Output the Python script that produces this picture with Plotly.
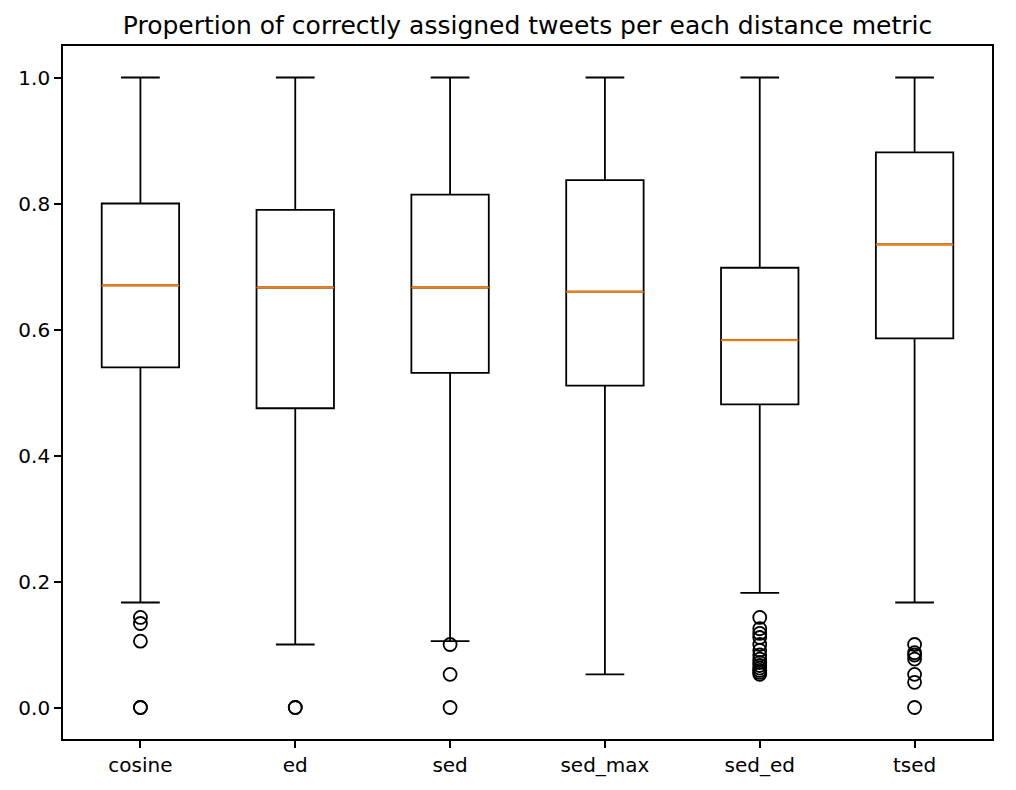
import plotly.graph_objects as go

categories = ["cosine", "ed", "sed", "sed_max", "sed_ed", "tsed"]
positions = [1, 2, 3, 4, 5, 6]
q1_vals = [0.540, 0.475, 0.531, 0.511, 0.481, 0.586]
median_vals = [0.670, 0.6667, 0.6667, 0.660, 0.583, 0.735]
q3_vals = [0.800, 0.790, 0.814, 0.837, 0.698, 0.881]
lower_whisker = [0.1667, 0.100, 0.1053, 0.0526, 0.1818, 0.1667]
upper_whisker = [1.0, 1.0, 1.0, 1.0, 1.0, 1.0]
outliers = {
    "cosine": [0.1429, 0.1333, 0.1053, 0.0, 0.0],
    "ed": [0.0, 0.0],
    "sed": [0.1, 0.0526, 0.0],
    "sed_max": [],
    "sed_ed": [0.1429, 0.125, 0.1176, 0.1111, 0.1, 0.0909, 0.0833, 0.0769,
               0.0714, 0.0667, 0.0625, 0.0588, 0.0556, 0.0526],
    "tsed": [0.1, 0.087, 0.0833, 0.0769, 0.0526, 0.04, 0.0],
}
y_ticks = [0.0, 0.2, 0.4, 0.6, 0.8, 1.0]

BOX_W = 0.5
FONT = "DejaVu Sans"

fig = go.Figure()
fig.add_trace(go.Box(
    x=positions, q1=q1_vals, median=median_vals, q3=q3_vals,
    lowerfence=lower_whisker, upperfence=upper_whisker,
    width=BOX_W, whiskerwidth=0.5,
    line=dict(color="black", width=1.8),
    fillcolor="rgba(255,255,255,0)",
    boxpoints=False, showlegend=False, hoverinfo="skip",
))

mx, my = [], []
for p, m in zip(positions, median_vals):
    mx += [p - BOX_W / 2, p + BOX_W / 2, None]
    my += [m, m, None]
fig.add_trace(go.Scatter(x=mx, y=my, mode="lines",
                         line=dict(color="#ff7f0e", width=2),
                         showlegend=False, hoverinfo="skip"))

ox, oy = [], []
for p, c in zip(positions, categories):
    for v in outliers[c]:
        ox.append(p)
        oy.append(v)
fig.add_trace(go.Scatter(x=ox, y=oy, mode="markers",
                         marker=dict(symbol="circle-open", size=13,
                                     color="black", line=dict(width=1.8)),
                         showlegend=False, hoverinfo="skip"))

fig.update_layout(
    width=1016, height=790,
    margin=dict(l=63, r=24, t=46, b=51),
    plot_bgcolor="white", paper_bgcolor="white",
    font=dict(family=FONT, color="black", size=20),
    title=dict(text="Propertion of correctly assigned tweets per each distance metric",
               x=0.5, xref="paper", xanchor="center",
               y=1 - 25 / 790, yref="container", yanchor="middle",
               font=dict(family=FONT, size=25, color="black")),
    xaxis=dict(range=[0.5, 6.5], tickvals=positions, ticktext=categories,
               showgrid=False, zeroline=False, showline=True, mirror=True,
               linecolor="black", linewidth=1.7,
               ticks="outside", ticklen=7, tickwidth=1.7, tickcolor="black",
               tickfont=dict(family=FONT, size=20, color="black")),
    yaxis=dict(range=[-0.05, 1.05], tickvals=y_ticks, tickformat=".1f",
               showgrid=False, zeroline=False, showline=True, mirror=True,
               linecolor="black", linewidth=1.7,
               ticks="outside", ticklen=7, tickwidth=1.7, tickcolor="black",
               tickfont=dict(family=FONT, size=20, color="black")),
)

fig.write_html("out.html")
